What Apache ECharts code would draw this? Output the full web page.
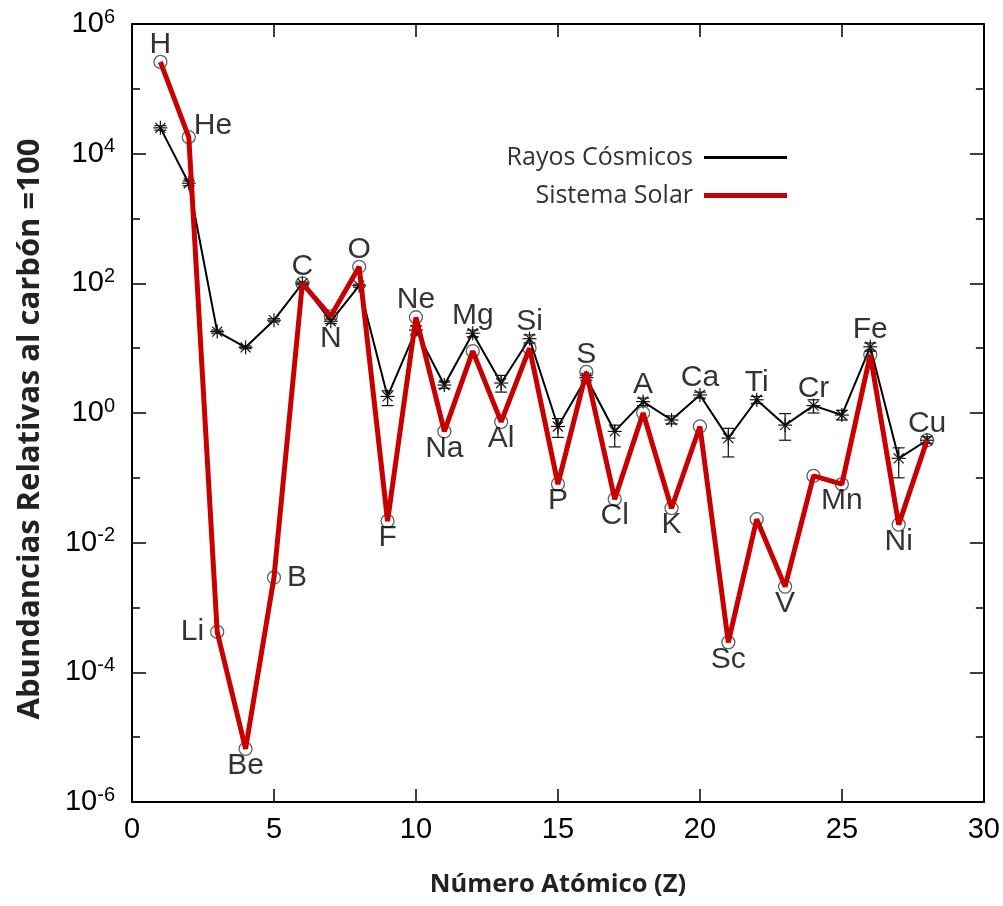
<!DOCTYPE html>
<html>
<head>
<meta charset="utf-8">
<script src="https://cdn.jsdelivr.net/npm/echarts@6/dist/echarts.min.js"></script>
<style>
  html, body { margin: 0; padding: 0; background: #ffffff; }
  #chart { width: 1003px; height: 906px; }
</style>
</head>
<body>
<div id="chart"></div>
<script>
// Atomic number of each element (x axis)
const atomicNumbers = [1, 2, 3, 4, 5, 6, 7, 8, 9, 10, 11, 12, 13, 14, 15, 16, 17, 18, 19, 20, 21, 22, 23, 24, 25, 26, 27, 28];
const elementSymbols = ['H', 'He', 'Li', 'Be', 'B', 'C', 'N', 'O', 'F', 'Ne', 'Na', 'Mg', 'Al', 'Si', 'P', 'S', 'Cl', 'A', 'K', 'Ca', 'Sc', 'Ti', 'V', 'Cr', 'Mn', 'Fe', 'Ni', 'Cu'];

// Relative abundances, carbon = 100
const solarAbundance = [2.6e5, 1.8e4, 4.2e-4, 6.6e-6, 2.9e-3, 100, 31, 180, 0.0215, 30, 0.52, 9.0, 0.73, 10, 0.08, 4.3, 0.047, 1.0, 0.034, 0.62, 2.9e-4, 0.023, 2.1e-3, 0.107, 0.08, 7.9, 0.019, 0.38];
const cosmicAbundance = [2.5e4, 3.5e3, 18, 10.3, 27, 100, 26, 92, 1.8, 19, 2.7, 17, 2.9, 14, 0.62, 3.5, 0.52, 1.5, 0.78, 1.9, 0.41, 1.6, 0.65, 1.3, 0.93, 10.5, 0.2, 0.38];
const cosmicLow = [2.3e4, 3.2e3, 17, 9.8, 25.5, 95, 24, 87, 1.3, 16, 2.4, 15, 2.1, 12, 0.42, 3.2, 0.3, 1.3, 0.68, 1.7, 0.21, 1.4, 0.38, 1.0, 0.78, 9, 0.1, 0.34];
const cosmicHigh = [2.7e4, 3.8e3, 19, 10.8, 28.5, 105, 28, 97, 2.2, 22, 3.0, 19, 3.8, 16, 0.82, 3.8, 0.65, 1.7, 0.9, 2.1, 0.58, 1.8, 0.98, 1.6, 1.1, 12, 0.29, 0.43];

// Which side of its point each element symbol is written on
const labelSide = ['top', 'right', 'left', 'bottom', 'right', 'top', 'bottom', 'top', 'bottom', 'top', 'bottom', 'top', 'bottom', 'top', 'bottom', 'top', 'bottom', 'top', 'bottom', 'top', 'bottom', 'top', 'bottom', 'top', 'bottom', 'top', 'bottom', 'top'];

// Axis ranges: x in Z, y in powers of ten
const xRange = [0, 30];
const xStep = 5;
const yExpRange = [-6, 6];
const yExpStep = 2;

const lg = Math.log10;
const tickFont = 'Liberation Sans, Arial, sans-serif';
const textFont = 'Open Sans, Noto Sans, sans-serif';

const solarPoints = atomicNumbers.map((z, i) => [z, lg(solarAbundance[i])]);
const cosmicPoints = atomicNumbers.map((z, i) => [z, lg(cosmicAbundance[i])]);
const cosmicBars = atomicNumbers.map((z, i) => [z, lg(cosmicAbundance[i]), lg(cosmicLow[i]), lg(cosmicHigh[i])]);

const labelPoints = atomicNumbers.map((z, i) => {
  const side = labelSide[i];
  let v = solarAbundance[i];
  if (side === 'top') v = Math.max(solarAbundance[i], cosmicAbundance[i]);
  if (side === 'bottom') v = Math.min(solarAbundance[i], cosmicAbundance[i]);
  const item = {
    value: [z, lg(v)],
    name: elementSymbols[i],
    label: { position: side, distance: side === 'top' || side === 'bottom' ? 2 : 13 }
  };
  if (elementSymbols[i] === 'He') item.label = { position: 'right', distance: 5, offset: [0, -11] };
  return item;
});

function baseXAxis(pos, showLabels) {
  return {
    type: 'value', position: pos, min: xRange[0], max: xRange[1], interval: xStep,
    axisLine: { show: true, onZero: false, lineStyle: { color: '#000', width: 2 } },
    axisTick: { show: true, inside: true, length: 13, lineStyle: { color: '#000', width: 1.5 } },
    axisLabel: { show: showLabels, margin: 13, color: '#000', fontSize: 29, fontFamily: tickFont },
    splitLine: { show: false }
  };
}

function baseYAxis(pos, showLabels) {
  return {
    type: 'value', position: pos, min: yExpRange[0], max: yExpRange[1], interval: yExpStep,
    axisLine: { show: true, onZero: false, lineStyle: { color: '#000', width: 2 } },
    axisTick: { show: true, inside: true, length: 14, lineStyle: { color: '#000', width: 1.5 } },
    minorTick: { show: true, splitNumber: 2, length: 8, lineStyle: { color: '#000', width: 1.5 } },
    axisLabel: {
      show: showLabels, margin: 17, color: '#000',
      formatter: v => '{b|10}{s|' + v + '}',
      rich: {
        b: { fontSize: 29, fontFamily: tickFont, lineHeight: 34, color: '#000' },
        s: { fontSize: 20, fontFamily: tickFont, lineHeight: 20, verticalAlign: 'top', color: '#000' }
      }
    },
    splitLine: { show: false },
    minorSplitLine: { show: false }
  };
}

const xBottom = baseXAxis('bottom', true);
xBottom.name = 'Número Atómico (Z)';
xBottom.nameLocation = 'middle';
xBottom.nameGap = 70;
xBottom.nameTextStyle = { fontFamily: textFont, fontWeight: 'bold', fontSize: 25.5, color: '#222' };

const yLeft = baseYAxis('left', true);
yLeft.name = 'Abundancias Relativas al carbón =100';
yLeft.nameLocation = 'middle';
yLeft.nameGap = 86;
yLeft.nameTextStyle = { fontFamily: textFont, fontWeight: 'bold', fontSize: 31, color: '#222', padding: [0, 0, 0, -32] };

function legendFor(name, top, height) {
  return {
    data: [name], right: 211, top: top, orient: 'horizontal', align: 'right',
    icon: 'rect', itemWidth: 83, itemHeight: height, itemGap: 0,
    selectedMode: false,
    textStyle: { fontFamily: textFont, fontSize: 25, color: '#333', padding: [0, 6, 0, 0] }
  };
}

const option = {
  animation: false,
  backgroundColor: '#ffffff',
  grid: { left: 132, right: 19, top: 24, bottom: 104, containLabel: false },
  legend: [legendFor('Rayos Cósmicos', 140, 3), legendFor('Sistema Solar', 178, 5)],
  xAxis: [xBottom, baseXAxis('top', false)],
  yAxis: [yLeft, baseYAxis('right', false)],
  series: [
    {
      name: 'Rayos Cósmicos', type: 'line', data: cosmicPoints, z: 2,
      symbol: 'none', color: '#000',
      lineStyle: { color: '#000', width: 2 }
    },
    {
      name: 'cosmic-markers', type: 'custom', data: cosmicBars, z: 3,
      renderItem: function (params, api) {
        const c = api.coord([api.value(0), api.value(1)]);
        const lo = api.coord([api.value(0), api.value(2)]);
        const hi = api.coord([api.value(0), api.value(3)]);
        const r = 7, d = 5, cap = 6;
        const st = { stroke: '#111', lineWidth: 1.2 };
        const seg = (x1, y1, x2, y2) => ({ type: 'line', shape: { x1, y1, x2, y2 }, style: st });
        return {
          type: 'group',
          children: [
            seg(c[0], lo[1], c[0], hi[1]),
            seg(c[0] - cap, lo[1], c[0] + cap, lo[1]),
            seg(c[0] - cap, hi[1], c[0] + cap, hi[1]),
            seg(c[0] - r, c[1], c[0] + r, c[1]),
            seg(c[0], c[1] - r, c[0], c[1] + r),
            seg(c[0] - d, c[1] - d, c[0] + d, c[1] + d),
            seg(c[0] - d, c[1] + d, c[0] + d, c[1] - d)
          ]
        };
      }
    },
    {
      name: 'solar-markers', type: 'scatter', data: solarPoints, z: 4,
      symbol: 'circle', symbolSize: 13,
      itemStyle: { color: 'rgba(0,0,0,0)', borderColor: '#3a3a3a', borderWidth: 1.3 }
    },
    {
      name: 'Sistema Solar', type: 'line', data: solarPoints, z: 5,
      symbol: 'none', color: '#c80000',
      lineStyle: { color: '#c80000', width: 5 }
    },
    {
      name: 'element-labels', type: 'scatter', data: labelPoints, z: 6,
      symbolSize: 0, silent: true,
      label: {
        show: true, formatter: p => p.name,
        fontFamily: tickFont, fontSize: 30, color: '#000'
      }
    }
  ]
};

const chart = echarts.init(document.getElementById('chart'), null, { renderer: 'canvas' });
chart.setOption(option);
</script>
</body>
</html>
